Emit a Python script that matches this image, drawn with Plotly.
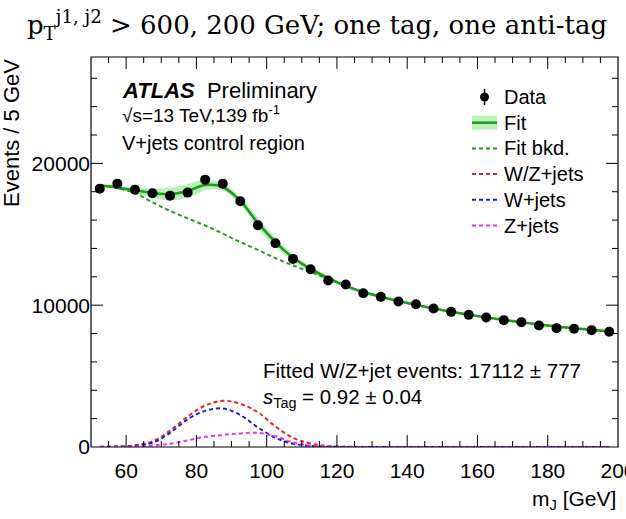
import plotly.graph_objects as go

# ---------------- data ----------------
mass_bins = [52.5, 57.5, 62.5, 67.5, 72.5, 77.5, 82.5, 87.5, 92.5, 97.5,
             102.5, 107.5, 112.5, 117.5, 122.5, 127.5, 132.5, 137.5, 142.5, 147.5,
             152.5, 157.5, 162.5, 167.5, 172.5, 177.5, 182.5, 187.5, 192.5, 197.5]

data_events = [18218, 18570, 18148, 17887, 17723, 17937, 18852, 18570, 17324, 15634,
               14366, 13263, 12535, 11737, 11455, 10845, 10587, 10258, 10070, 9765,
               9530, 9319, 9131, 8944, 8803, 8568, 8380, 8333, 8239, 8122]
data_err = [135, 136, 135, 134, 133, 134, 137, 136, 132, 125,
            120, 115, 112, 108, 107, 104, 103, 101, 100, 99,
            98, 97, 96, 95, 94, 93, 92, 91, 91, 90]

fit_total = [18450, 18286, 18100, 17910, 17830, 18050, 18474, 18333, 17347, 15800,
             14450, 13350, 12560, 11900, 11350, 10930, 10590, 10290, 10020, 9770,
             9540, 9330, 9140, 8960, 8790, 8640, 8500, 8380, 8260, 8150]
fit_unc = [80, 120, 200, 320, 450, 480, 380, 250, 250, 350,
           330, 250, 200, 150, 120, 100, 90, 80, 80, 70,
           70, 70, 70, 70, 70, 70, 70, 70, 70, 70]
fit_bkg = [18450, 18250, 17900, 17250, 16650, 16120, 15620, 15050, 14450, 13900,
           13320, 12800, 12330, 11850, 11400, 10920, 10590, 10290, 10020, 9770,
           9540, 9330, 9140, 8960, 8790, 8640, 8500, 8380, 8260, 8150]
wz_jets = [10, 40, 120, 400, 1150, 2150, 2920, 3260, 3050, 2450,
           1450, 650, 250, 70, 20, 5, 0, 0, 0, 0,
           0, 0, 0, 0, 0, 0, 0, 0, 0, 0]
w_jets = [8, 30, 90, 300, 1000, 1950, 2550, 2720, 2250, 1380,
          650, 230, 80, 20, 5, 0, 0, 0, 0, 0,
          0, 0, 0, 0, 0, 0, 0, 0, 0, 0]
z_jets = [5, 15, 35, 110, 230, 470, 720, 850, 960, 1000,
          760, 320, 100, 30, 10, 0, 0, 0, 0, 0,
          0, 0, 0, 0, 0, 0, 0, 0, 0, 0]

legend_labels = ["Data", "Fit", "Fit bkd.", "W/Z+jets", "W+jets", "Z+jets"]
x_tick_vals = [60, 80, 100, 120, 140, 160, 180, 200]
y_tick_vals = [0, 10000, 20000]
x_minor_step = 5
y_minor_step = 2000

# ---------------- styling ----------------
W, H = 626, 519
L, R, T, B = 91, 8, 57, 72
PW, PH = W - L - R, H - T - B
SANS = "Liberation Sans, Arial, sans-serif"

GREEN = "#1f9a1f"
BAND = "#b8f0b8"
RED = "#f02020"
BLUE = "#1a1aee"
MAGENTA = "#ee30ee"
DASH = "4px,3px"
X_RANGE = [50, 200]
Y_RANGE = [0, 27500]
MAJOR_LEN, MINOR_LEN = 12, 6


def px(x):
    return (x - L) / PW


def py(y):
    return 1 - (y - T) / PH


upper = [f + u for f, u in zip(fit_total, fit_unc)]
lower = [f - u for f, u in zip(fit_total, fit_unc)]

fig = go.Figure()
fig.add_trace(go.Scatter(x=mass_bins, y=upper, mode="lines", line=dict(width=0, shape="spline"),
                         showlegend=False, hoverinfo="skip"))
fig.add_trace(go.Scatter(x=mass_bins, y=lower, mode="lines", line=dict(width=0, shape="spline"),
                         fill="tonexty", fillcolor=BAND, showlegend=False, hoverinfo="skip"))
fig.add_trace(go.Scatter(x=mass_bins, y=fit_bkg, mode="lines", name=legend_labels[2],
                         line=dict(color=GREEN, width=2, dash=DASH, shape="spline")))
fig.add_trace(go.Scatter(x=mass_bins, y=wz_jets, mode="lines", name=legend_labels[3],
                         line=dict(color=RED, width=2, dash=DASH, shape="spline")))
fig.add_trace(go.Scatter(x=mass_bins, y=w_jets, mode="lines", name=legend_labels[4],
                         line=dict(color=BLUE, width=2, dash=DASH, shape="spline")))
fig.add_trace(go.Scatter(x=mass_bins, y=z_jets, mode="lines", name=legend_labels[5],
                         line=dict(color=MAGENTA, width=2, dash=DASH, shape="spline")))
fig.add_trace(go.Scatter(x=mass_bins, y=fit_total, mode="lines", name=legend_labels[1],
                         line=dict(color=GREEN, width=2.5, shape="spline")))
fig.add_trace(go.Scatter(x=mass_bins, y=data_events, mode="markers", name=legend_labels[0],
                         marker=dict(color="black", size=10),
                         error_y=dict(type="data", array=data_err, color="black", thickness=1.5, width=0)))

shapes = []
annotations = []

# ---------------- frame and tick marks (drawn through the axes' own scales) ----------------
shapes.append(dict(type="rect", xref="paper", yref="paper", x0=0, x1=1, y0=0, y1=1,
                   line=dict(color="black", width=1.2), fillcolor="rgba(0,0,0,0)", layer="above"))
n_xminor = int(round((X_RANGE[1] - X_RANGE[0]) / x_minor_step))
x_minor_vals = [X_RANGE[0] + i * x_minor_step for i in range(1, n_xminor)]
n_yminor = int(Y_RANGE[1] // y_minor_step)
y_minor_vals = [Y_RANGE[0] + i * y_minor_step for i in range(1, n_yminor + 1)]
for v in x_minor_vals:
    ln = MAJOR_LEN if v in x_tick_vals else MINOR_LEN
    for base, sgn in ((0, 1), (1, -1)):
        shapes.append(dict(type="line", xref="x", yref="paper", x0=v, x1=v,
                           y0=base, y1=base + sgn * ln / PH, line=dict(color="black", width=1)))
for v in y_minor_vals:
    ln = MAJOR_LEN if v in y_tick_vals else MINOR_LEN
    for base, sgn in ((0, 1), (1, -1)):
        shapes.append(dict(type="line", xref="paper", yref="y", y0=v, y1=v,
                           x0=base, x1=base + sgn * ln / PW, line=dict(color="black", width=1)))

# ---------------- manual legend ----------------
leg_y = [97, 122.7, 148.4, 174.1, 199.8, 225.5]
icon_x0, icon_x1, text_x = 472, 497, 502
for lbl, yy in zip(legend_labels, leg_y):
    annotations.append(dict(text=lbl, x=px(text_x), y=py(yy), xref="paper", yref="paper",
                            xanchor="left", yanchor="middle", showarrow=False,
                            font=dict(family=SANS, size=20, color="black")))
shapes.append(dict(type="line", xref="paper", yref="paper", x0=px(484.5), x1=px(484.5),
                   y0=py(89), y1=py(105), line=dict(color="black", width=1.5)))
shapes.append(dict(type="circle", xref="paper", yref="paper", x0=px(480), x1=px(489),
                   y0=py(leg_y[0] - 4.5), y1=py(leg_y[0] + 4.5), fillcolor="black",
                   line=dict(color="black", width=0)))
shapes.append(dict(type="rect", xref="paper", yref="paper", x0=px(icon_x0), x1=px(icon_x1),
                   y0=py(leg_y[1] - 7), y1=py(leg_y[1] + 7), fillcolor=BAND, line=dict(width=0)))
shapes.append(dict(type="line", xref="paper", yref="paper", x0=px(icon_x0), x1=px(icon_x1),
                   y0=py(leg_y[1]), y1=py(leg_y[1]), line=dict(color=GREEN, width=2.5)))
for col, yy in zip([GREEN, RED, BLUE, MAGENTA], leg_y[2:]):
    shapes.append(dict(type="line", xref="paper", yref="paper", x0=px(icon_x0), x1=px(icon_x1),
                       y0=py(yy), y1=py(yy), line=dict(color=col, width=2, dash=DASH)))

# ---------------- text ----------------
annotations += [
    dict(text="<b><i>ATLAS</i></b>  Preliminary", x=px(120), y=py(90), xref="paper", yref="paper",
         xanchor="left", yanchor="middle", showarrow=False, font=dict(family=SANS, size=22, color="black")),
    dict(text="√s=13 TeV,139 fb<sup>-1</sup>", x=px(120), y=py(114), xref="paper", yref="paper",
         xanchor="left", yanchor="middle", showarrow=False, font=dict(family=SANS, size=19, color="black")),
    dict(text="V+jets control region", x=px(120), y=py(143), xref="paper", yref="paper",
         xanchor="left", yanchor="middle", showarrow=False, font=dict(family=SANS, size=20, color="black")),
    dict(text="Fitted W/Z+jet events: 17112 ± 777", x=px(261), y=py(370), xref="paper", yref="paper",
         xanchor="left", yanchor="middle", showarrow=False, font=dict(family=SANS, size=20.5, color="black")),
    dict(text="<i>s</i><sub>Tag</sub> = 0.92 ± 0.04", x=px(261), y=py(398), xref="paper", yref="paper",
         xanchor="left", yanchor="middle", showarrow=False, font=dict(family=SANS, size=20.5, color="black")),
    dict(text="Events / 5 GeV", textangle=-90, x=px(11), y=1.0, xref="paper", yref="paper",
         xanchor="center", yanchor="top", showarrow=False, font=dict(family=SANS, size=22, color="black")),
    dict(text="m<sub>J</sub> [GeV]", x=1.0, y=py(500), xref="paper", yref="paper",
         xanchor="right", yanchor="middle", showarrow=False, font=dict(family=SANS, size=21, color="black")),
]

fig.update_layout(
    width=W, height=H,
    margin=dict(l=L, r=R, t=T, b=B, autoexpand=False),
    paper_bgcolor="white", plot_bgcolor="white",
    showlegend=False,
    title=dict(text="p<sub>T</sub><sup>j1, j2</sup> > 600, 200 GeV; one tag, one anti-tag",
               x=317 / W, xref="container", xanchor="center", y=1 - 25 / H, yref="container",
               yanchor="middle", font=dict(family="DejaVu Serif", size=26, color="black")),
    xaxis=dict(range=X_RANGE, tickmode="array", tickvals=x_tick_vals,
               ticktext=[str(v) for v in x_tick_vals], ticks="outside", ticklen=5,
               tickcolor="rgba(0,0,0,0)", showline=False, showgrid=False, zeroline=False,
               tickfont=dict(family=SANS, size=21, color="black"), ticklabeloverflow="allow"),
    yaxis=dict(range=Y_RANGE, tickmode="array", tickvals=y_tick_vals,
               ticktext=[str(v) for v in y_tick_vals], ticks="", showline=False, showgrid=False,
               zeroline=False, tickfont=dict(family=SANS, size=21, color="black")),
    shapes=shapes,
    annotations=annotations,
)

fig.write_html("out.html")
